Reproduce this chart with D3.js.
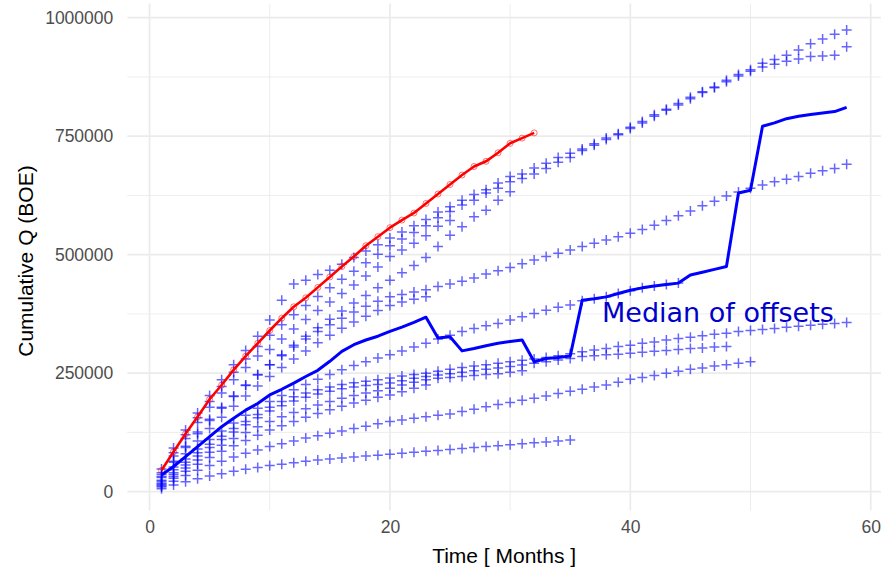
<!DOCTYPE html>
<html>
<head>
<meta charset="utf-8">
<script src="https://cdn.jsdelivr.net/npm/d3@7"></script>
<style>
  html, body { margin: 0; padding: 0; background: #fff; }
  svg { display: block; }
</style>
</head>
<body>
<div id="chart"></div>
<script>
// cumulative production per well, thousands of BOE, one value per month starting at month 1
const wellA = [48, 92, 130, 166, 203, 236, 268, 298, 328, 362,
  404, 438, 446, 458, 467, 480, 494, 508, 521, 535,
  548, 561, 574, 590, 601, 615, 627, 637, 651, 665,
  670, 683, 693, 705, 714, 723, 734, 746, 755, 769,
  781, 795, 807, 819, 832, 844, 854, 868, 880, 890,
  904, 912, 921, 932, 945, 955, 965, 974];
const wellB = [40, 82, 120, 156, 190, 222, 252, 280, 306, 330,
  352, 373, 393, 412, 430, 448, 465, 483, 501, 519,
  533, 547, 561, 578, 591, 605, 615, 630, 640, 654,
  661, 670, 682, 695, 705, 720, 731, 743, 753, 766,
  778, 792, 805, 816, 829, 842, 852, 865, 877, 887,
  896, 902, 908, 913, 918, 919, 921, 939];
const wellC = [36, 75, 112, 146, 178, 208, 236, 262, 286, 300,
  322, 343, 363, 382, 400, 418, 436, 455, 474, 496,
  510, 524, 540, 560, 572];
const wellD = [30, 62, 93, 122, 150, 176, 201, 224, 246, 268,
  289, 309, 328, 346, 364, 381, 398, 414, 430, 446,
  462, 477, 494, 517, 541, 559, 580, 594, 615, 633];
const wellE = [32, 64, 96, 126, 153, 178, 202, 225, 247, 268,
  287, 305, 322, 338, 352, 366, 379, 391, 402, 411,
  416, 421, 426, 433, 438, 444, 451, 459, 466, 473,
  481, 489, 496, 503, 510, 517, 524, 531, 538, 545,
  553, 562, 572, 582, 592, 603, 613, 624, 632, 640,
  647, 654, 659, 665, 672, 677, 682, 691];
const wellF = [24, 52, 80, 107, 133, 157, 180, 202, 223, 243,
  262, 280, 297, 314, 330, 345, 358, 370, 382, 393,
  400, 406, 411];
const wellG = [22, 46, 69, 90, 110, 128, 145, 161, 176, 190,
  203, 215, 226, 237, 247, 257, 266, 274, 282, 289,
  297, 305, 313, 322, 330, 338, 344, 350, 355, 362,
  369, 376, 383, 389, 394, 403, 407, 411, 418, 424,
  430, 434, 437, 440];
const wellH = [18, 40, 62, 82, 100, 117, 133, 148, 163, 178,
  190, 200, 208, 215, 221, 226, 230, 233, 236, 240,
  244, 247, 250, 254, 258, 262, 265, 268, 271, 274,
  277, 280, 283, 287, 291, 295, 299, 302, 306, 309,
  313, 316, 320, 323, 326, 329, 332, 334, 338, 340,
  342, 344, 347, 349, 351, 353, 355, 357];
const wellI = [16, 36, 56, 75, 93, 110, 126, 141, 156, 170,
  181, 191, 199, 206, 212, 217, 221, 224, 226, 229,
  234, 239, 243, 246, 249, 252, 255, 258, 261, 264,
  267, 271, 274, 278, 281, 285, 287, 289, 290, 292,
  294, 296, 298, 300, 302, 303, 305, 306];
const wellJ = [14, 32, 50, 67, 83, 98, 112, 125, 137, 148,
  158, 167, 175, 183, 190, 197, 203, 208, 213, 218,
  225, 231, 236, 239, 241, 243, 245, 247, 249, 252, 255];
const wellK = [12, 28, 43, 58, 72, 85, 97, 108, 119, 130,
  139, 148, 157, 165, 173, 180, 187, 193, 199, 204,
  211, 218, 225];
const wellL = [10, 22, 34, 45, 55, 64, 73, 81, 88, 95,
  101, 107, 113, 118, 123, 128, 133, 138, 143, 148,
  151, 155, 158, 161, 164, 169, 174, 179, 184, 188,
  193, 197, 202, 207, 212, 216, 221, 225, 231, 237,
  241, 245, 250, 254, 258, 261, 265, 268, 271, 274];
const wellM = [6, 14, 21, 27, 33, 38, 43, 47, 51, 55,
  58, 61, 64, 67, 69, 71, 73, 75, 77, 79,
  81, 83, 85, 87, 89, 91, 93, 95, 97, 99,
  101, 103, 105, 107, 109];

// target well (red) and the median of the offset wells (blue line)
const targetWell = [45, 84, 122, 158, 195, 225, 257, 286, 313, 340,
  366, 390, 409, 431, 453, 475, 496, 519, 538, 557,
  573, 588, 608, 628, 648, 668, 686, 697, 715, 735,
  746, 757];
const medianOffsets = [35, 53, 74, 95, 116, 137, 155, 172, 186, 204,
  216, 229, 243, 256, 275, 296, 310, 320, 328, 338,
  347, 357, 368, 324, 327, 297, 302, 308, 313, 317,
  320, 274, 281, 283, 286, 404, 407, 411, 418, 425,
  430, 434, 437, 440, 457, 463, 469, 475, 630, 636,
  771, 778, 787, 792, 796, 799, 802, 811];

const xTicks = [0, 20, 40, 60];
const xMinorTicks = [10, 30, 50];
const yTicks = [0, 250000, 500000, 750000, 1000000];
const yMinorTicks = [125000, 375000, 625000, 875000];

const offsetWells = [wellA, wellB, wellC, wellD, wellE, wellF, wellG,
  wellH, wellI, wellJ, wellK, wellL, wellM];

const toPoints = arr => arr.map((v, i) => ({ month: i + 1, q: v * 1000 }));

const width = 896, height = 569;
const panel = { left: 127.3, right: 880.9, top: 3.5, bottom: 510.6 };
const font = "'Liberation Sans', Arial, sans-serif";

const svg = d3.select('#chart')
  .append('svg')
  .attr('width', width)
  .attr('height', height);

const x = d3.scaleLinear().domain([-1.85, 60.85]).range([panel.left, panel.right]);
const y = d3.scaleLinear().domain([-40000, 1030000]).range([panel.bottom, panel.top]);

// grid lines
const grid = svg.append('g');
grid.selectAll('.vminor')
  .data(xMinorTicks).enter().append('line')
  .attr('x1', d => x(d)).attr('x2', d => x(d))
  .attr('y1', panel.top).attr('y2', panel.bottom)
  .attr('stroke', '#ebebeb').attr('stroke-width', 0.9);
grid.selectAll('.hminor')
  .data(yMinorTicks).enter().append('line')
  .attr('x1', panel.left).attr('x2', panel.right)
  .attr('y1', d => y(d)).attr('y2', d => y(d))
  .attr('stroke', '#ebebeb').attr('stroke-width', 0.9);
grid.selectAll('.vmajor')
  .data(xTicks).enter().append('line')
  .attr('x1', d => x(d)).attr('x2', d => x(d))
  .attr('y1', panel.top).attr('y2', panel.bottom)
  .attr('stroke', '#ebebeb').attr('stroke-width', 1.7);
grid.selectAll('.hmajor')
  .data(yTicks).enter().append('line')
  .attr('x1', panel.left).attr('x2', panel.right)
  .attr('y1', d => y(d)).attr('y2', d => y(d))
  .attr('stroke', '#ebebeb').attr('stroke-width', 1.7);

// axes (labels only)
const yAxis = svg.append('g')
  .attr('transform', `translate(${panel.left},0)`)
  .call(d3.axisLeft(y).tickValues(yTicks).tickSize(0).tickPadding(14).tickFormat(d3.format('d')));
const xAxis = svg.append('g')
  .attr('transform', `translate(0,${panel.bottom})`)
  .call(d3.axisBottom(x).tickValues(xTicks).tickSize(0).tickPadding(10));
[xAxis, yAxis].forEach(a => {
  a.select('.domain').remove();
  a.selectAll('text')
    .attr('fill', '#4d4d4d')
    .style('font-family', font)
    .style('font-size', '17.5px');
});

svg.append('text')
  .attr('x', (panel.left + panel.right) / 2)
  .attr('y', 563)
  .attr('text-anchor', 'middle')
  .style('font-family', font)
  .style('font-size', '21px')
  .text('Time [ Months ]');

svg.append('text')
  .attr('transform', `translate(33,${(panel.top + panel.bottom) / 2 + 4}) rotate(-90)`)
  .attr('text-anchor', 'middle')
  .style('font-family', font)
  .style('font-size', '21px')
  .text('Cumulative Q (BOE)');

// offset wells as + markers
const plus = 'M-5,0H5M0,-5V5';
offsetWells.forEach(w => {
  svg.append('g')
    .selectAll('path')
    .data(toPoints(w))
    .enter()
    .append('path')
    .attr('d', plus)
    .attr('transform', d => `translate(${x(d.month)},${y(d.q)})`)
    .attr('stroke', '#0000ff')
    .attr('stroke-opacity', 0.6)
    .attr('stroke-width', 1.5)
    .attr('fill', 'none');
});

const line = d3.line().x(d => x(d.month)).y(d => y(d.q));

// target well
svg.append('path')
  .datum(toPoints(targetWell))
  .attr('d', line)
  .attr('fill', 'none')
  .attr('stroke', '#ff0000')
  .attr('stroke-width', 2.6)
  .attr('stroke-linejoin', 'round');
svg.append('g')
  .selectAll('circle')
  .data(toPoints(targetWell))
  .enter()
  .append('circle')
  .attr('cx', d => x(d.month))
  .attr('cy', d => y(d.q))
  .attr('r', 3)
  .attr('fill', 'none')
  .attr('stroke', '#ff0000')
  .attr('stroke-opacity', 0.55)
  .attr('stroke-width', 1);

// median of offsets
svg.append('path')
  .datum(toPoints(medianOffsets))
  .attr('d', line)
  .attr('fill', 'none')
  .attr('stroke', '#0000ff')
  .attr('stroke-width', 3)
  .attr('stroke-linejoin', 'round');

svg.append('text')
  .attr('x', 602)
  .attr('y', 322)
  .attr('fill', '#0000cd')
  .style('font-family', "'DejaVu Sans', Verdana, sans-serif")
  .style('font-size', '27px')
  .text('Median of offsets');
</script>
</body>
</html>
